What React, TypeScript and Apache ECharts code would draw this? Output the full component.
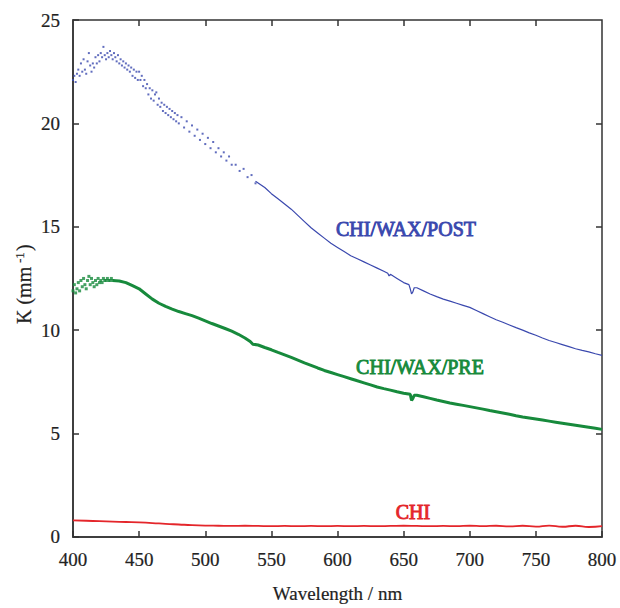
import React, { useEffect, useRef } from "react";
import * as echarts from "echarts";

const xTicks = [400, 450, 500, 550, 600, 650, 700, 750, 800];
const yTicks = [0, 5, 10, 15, 20, 25];

// CHI/WAX/POST – scattered points in the noisy short-wavelength part
const postDots: [number, number][] = [
  [400, 22.1], [401, 22.3], [402, 22.0], [403, 22.4], [404, 22.6], [405, 22.3], [406, 22.9],
  [407, 22.5], [408, 23.1], [409, 22.6], [410, 22.4], [411, 23.0], [412, 23.4], [413, 22.8],
  [414, 22.5], [415, 22.9], [416, 22.7], [417, 23.2], [418, 22.9], [419, 23.3], [420, 23.0],
  [421, 23.4], [422, 23.2], [423, 23.7], [424, 23.3], [425, 23.1], [426, 23.4], [427, 23.2],
  [428, 23.5], [429, 23.3], [430, 23.1], [431, 23.4], [432, 23.2], [433, 23.0], [434, 23.3],
  [435, 22.9], [436, 23.1], [437, 22.8], [438, 23.0], [439, 22.7], [440, 22.9], [441, 22.6],
  [442, 22.8], [443, 22.5], [444, 22.7], [445, 22.3], [446, 22.6], [447, 22.2], [448, 22.5],
  [449, 22.1], [450, 22.5], [451, 22.1], [452, 22.3], [453, 21.8], [454, 22.1], [455, 21.7],
  [456, 21.9], [457, 21.4], [458, 21.7], [459, 21.2], [460, 21.6], [461, 21.1], [462, 21.4],
  [463, 21.5], [464, 20.9], [465, 21.2], [466, 20.8], [467, 21.0], [468, 20.6], [469, 20.9],
  [470, 20.5], [471, 20.8], [472, 20.4], [473, 20.7], [474, 20.3], [475, 20.6], [476, 20.2],
  [477, 20.5], [478, 20.1], [479, 20.4], [480, 20.0], [482, 20.3], [484, 19.8], [486, 20.1],
  [488, 19.6], [490, 19.9], [492, 19.4], [494, 19.7], [496, 19.2], [498, 19.5], [500, 19.0],
  [502, 19.3], [504, 18.8], [506, 19.1], [508, 18.6], [510, 18.8], [512, 18.4], [514, 18.6],
  [516, 18.2], [518, 18.4], [520, 18.0], [523, 18.0], [526, 17.7], [529, 17.8], [532, 17.4],
  [535, 17.5], [538, 17.1],
];

// CHI/WAX/POST – continuous part
const postLine: [number, number][] = [
  [538, 17.2], [545, 16.9], [550, 16.6], [555, 16.35], [560, 16.1], [565, 15.85], [570, 15.55],
  [575, 15.25], [580, 14.95], [585, 14.7], [590, 14.45], [595, 14.2], [600, 14.0], [605, 13.8],
  [610, 13.6], [615, 13.45], [620, 13.3], [625, 13.15], [630, 13.0], [635, 12.85], [638, 12.75],
  [639, 12.62], [640, 12.7], [645, 12.5], [650, 12.3], [654, 12.2], [655, 12.0], [656, 11.75],
  [657, 11.85], [658, 12.05], [660, 12.05], [665, 11.9], [670, 11.75], [675, 11.62], [680, 11.5],
  [685, 11.4], [690, 11.3], [695, 11.2], [700, 11.1], [705, 10.95], [710, 10.8], [715, 10.65],
  [720, 10.5], [725, 10.38], [730, 10.25], [735, 10.12], [740, 10.0], [745, 9.87], [750, 9.75],
  [755, 9.62], [760, 9.5], [765, 9.4], [770, 9.3], [775, 9.2], [780, 9.1], [785, 9.02],
  [790, 8.95], [795, 8.86], [800, 8.78],
];

// CHI/WAX/PRE – scattered points at the start
const preDots: [number, number][] = [
  [400, 11.9], [401, 12.2], [402, 11.8], [403, 12.0], [404, 12.3], [405, 11.9], [406, 12.4],
  [407, 12.1], [408, 12.5], [409, 12.2], [410, 12.0], [411, 12.4], [412, 12.6], [413, 12.2],
  [414, 12.5], [415, 12.3], [416, 12.1], [417, 12.4], [418, 12.2], [419, 12.5], [420, 12.3],
  [421, 12.4], [422, 12.3], [423, 12.5], [424, 12.4], [425, 12.4], [426, 12.5], [427, 12.4],
  [428, 12.4], [429, 12.5], [430, 12.4],
];

// CHI/WAX/PRE – continuous part
const preLine: [number, number][] = [
  [430, 12.4], [435, 12.38], [440, 12.3], [445, 12.15], [450, 12.0], [455, 11.75], [460, 11.5],
  [465, 11.3], [470, 11.15], [475, 11.02], [480, 10.9], [485, 10.8], [490, 10.7], [495, 10.58],
  [500, 10.45], [505, 10.32], [510, 10.2], [515, 10.08], [520, 9.95], [525, 9.8], [530, 9.62],
  [534, 9.45], [536, 9.32], [540, 9.28], [545, 9.16], [550, 9.05], [555, 8.92], [560, 8.8],
  [565, 8.68], [570, 8.55], [575, 8.42], [580, 8.3], [585, 8.17], [590, 8.05], [595, 7.95],
  [600, 7.85], [605, 7.75], [610, 7.65], [615, 7.55], [620, 7.45], [625, 7.35], [630, 7.25],
  [635, 7.17], [640, 7.1], [645, 7.02], [650, 6.95], [655, 6.9], [656, 6.6], [657, 6.7],
  [658, 6.85], [660, 6.85], [665, 6.78], [670, 6.7], [675, 6.62], [680, 6.55], [685, 6.48],
  [690, 6.42], [695, 6.36], [700, 6.3], [705, 6.24], [710, 6.18], [715, 6.11], [720, 6.05],
  [725, 5.99], [730, 5.93], [735, 5.86], [740, 5.8], [745, 5.75], [750, 5.7], [755, 5.65],
  [760, 5.6], [765, 5.55], [770, 5.5], [775, 5.45], [780, 5.4], [785, 5.35], [790, 5.3],
  [795, 5.25], [800, 5.2],
];

// CHI
const chiLine: [number, number][] = [
  [400, 0.8], [410, 0.78], [420, 0.76], [430, 0.74], [440, 0.72], [450, 0.7], [460, 0.67],
  [470, 0.63], [480, 0.6], [490, 0.57], [500, 0.55], [510, 0.54], [520, 0.53], [530, 0.54],
  [540, 0.53], [550, 0.52], [560, 0.53], [570, 0.52], [580, 0.53], [590, 0.52], [600, 0.53],
  [610, 0.52], [620, 0.53], [630, 0.52], [640, 0.53], [650, 0.54], [660, 0.53], [670, 0.52],
  [680, 0.53], [690, 0.52], [700, 0.54], [710, 0.52], [720, 0.54], [730, 0.51], [740, 0.54],
  [750, 0.5], [760, 0.55], [770, 0.49], [780, 0.54], [790, 0.48], [800, 0.52],
];

const seriesLabels = ["CHI/WAX/POST", "CHI/WAX/PRE", "CHI"];

const BLUE = "#3a48ae";
const GREEN = "#178a3c";
const RED = "#e4262b";
const FONT = "Liberation Serif";
const AXIS_FONT = "Times New Roman";
const INK = "#222";

export default function App() {
  const ref = useRef<HTMLDivElement>(null);

  useEffect(() => {
    if (!ref.current) return;
    const chart = echarts.init(ref.current, undefined, { renderer: "svg" });
    const axisLine = { show: true, lineStyle: { color: "#333", width: 1.5 } };
    const tick = { show: true, inside: true, length: 6, lineStyle: { color: "#333", width: 1.5 } };
    const label = {
      color: INK,
      fontFamily: AXIS_FONT,
      fontSize: 19,
      textBorderColor: INK,
      textBorderWidth: 0.2,
    };
    const xMin = xTicks[0];
    const xMax = xTicks[xTicks.length - 1];
    const yMin = yTicks[0];
    const yMax = yTicks[yTicks.length - 1];
    // mirrored ticks on the top and right frame edges (6 px long)
    const topTickLen = (6 / 523) * (yMax - yMin);
    const rightTickLen = (6 / 529) * (xMax - xMin);
    const mirrorTicks = [
      ...xTicks.slice(1, -1).map((t) => [{ coord: [t, yMax] }, { coord: [t, yMax - topTickLen] }]),
      ...yTicks.slice(1, -1).map((t) => [{ coord: [xMax, t] }, { coord: [xMax - rightTickLen, t] }]),
    ];
    const tag = (text: string, color: string, x: number, y: number) => ({
      type: "text",
      x,
      y,
      style: {
        text,
        fill: color,
        stroke: color,
        lineWidth: 0.9,
        fontFamily: FONT,
        fontSize: 20,
        align: "center",
        verticalAlign: "middle",
      },
    });
    const nameText = (text: string, x: number, y: number, size: number) => ({
      type: "text",
      x,
      y,
      rotation: Math.PI / 2,
      style: {
        text,
        fill: INK,
        stroke: INK,
        lineWidth: 0.2,
        fontFamily: AXIS_FONT,
        fontSize: size,
        align: "left",
        verticalAlign: "middle",
      },
    });
    chart.setOption({
      animation: false,
      backgroundColor: "#fff",
      grid: {
        left: 73,
        right: 18,
        top: 20,
        bottom: 65,
        containLabel: false,
        show: true,
        borderColor: "#333",
        borderWidth: 1.5,
        backgroundColor: "transparent",
      },
      xAxis: {
        type: "value",
        min: xMin,
        max: xMax,
        interval: 50,
        axisLine,
        axisTick: tick,
        splitLine: { show: false },
        axisLabel: { ...label, margin: 13 },
        name: "Wavelength / nm",
        nameLocation: "middle",
        nameGap: 47,
        nameTextStyle: { ...label },
      },
      yAxis: {
        type: "value",
        min: yMin,
        max: yMax,
        interval: 5,
        axisLine,
        axisTick: tick,
        splitLine: { show: false },
        axisLabel: { ...label, margin: 13 },
      },
      series: [
        {
          name: seriesLabels[0] + " dots",
          type: "scatter",
          data: postDots,
          symbol: "rect",
          symbolSize: 2,
          itemStyle: { color: BLUE },
          silent: true,
        },
        {
          name: seriesLabels[0],
          type: "line",
          data: postLine,
          showSymbol: false,
          lineStyle: { color: BLUE, width: 1.2 },
          silent: true,
        },
        {
          name: seriesLabels[1] + " dots",
          type: "scatter",
          data: preDots,
          symbol: "rect",
          symbolSize: 3,
          itemStyle: { color: GREEN },
          silent: true,
        },
        {
          name: seriesLabels[1],
          type: "line",
          data: preLine,
          showSymbol: false,
          lineStyle: { color: GREEN, width: 3 },
          silent: true,
        },
        {
          name: seriesLabels[2],
          type: "line",
          data: chiLine,
          showSymbol: false,
          smooth: true,
          lineStyle: { color: RED, width: 1.8 },
          silent: true,
          markLine: {
            silent: true,
            symbol: "none",
            label: { show: false },
            lineStyle: { color: "#333", width: 1.5, type: "solid" },
            data: mirrorTicks,
          },
        },
      ],
      graphic: [
        nameText("K (mm", 24, 324, 20),
        nameText("-1", 19, 263, 13),
        nameText(")", 24, 251, 20),
        tag(seriesLabels[0], BLUE, 406, 229),
        tag(seriesLabels[1], GREEN, 420, 367),
        tag(seriesLabels[2], RED, 413, 512),
      ],
    });
    return () => chart.dispose();
  }, []);

  return <div ref={ref} style={{ position: "absolute", left: 0, top: 0, width: 620, height: 608 }} />;
}
